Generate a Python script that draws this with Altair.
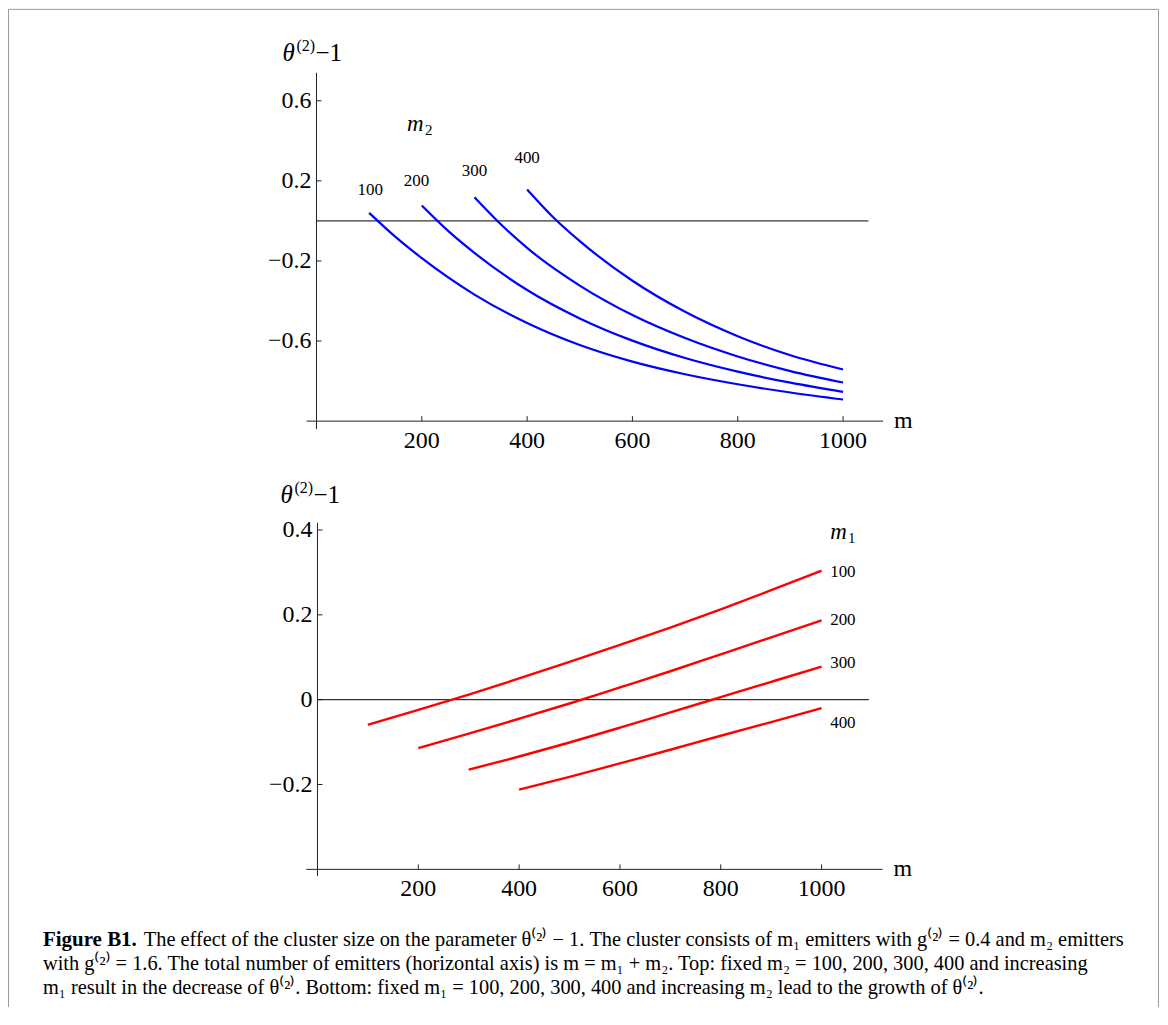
import altair as alt
import pandas as pd

SERIF = "Liberation Serif"

# ---------------- data ----------------
# Top panel: fixed m2, increasing m1 (x = m = m1 + m2)
top_series = [100, 200, 300, 400]
top_m_100 = [100, 150, 200, 300, 400, 500, 600, 700, 800, 900, 1000]
top_v_100 = [0.040, -0.080, -0.186, -0.368, -0.510, -0.620, -0.703, -0.766, -0.816, -0.857, -0.892]
top_m_200 = [200, 250, 300, 400, 500, 600, 700, 800, 900, 1000]
top_v_200 = [0.077, -0.050, -0.160, -0.345, -0.487, -0.598, -0.685, -0.753, -0.808, -0.854]
top_m_300 = [300, 350, 400, 500, 600, 700, 800, 900, 1000]
top_v_300 = [0.118, -0.017, -0.135, -0.323, -0.470, -0.585, -0.677, -0.750, -0.807]
top_m_400 = [400, 450, 500, 600, 700, 800, 900, 1000]
top_v_400 = [0.157, 0.017, -0.101, -0.299, -0.454, -0.576, -0.671, -0.742]

# Bottom panel: fixed m1, increasing m2
bot_series = [100, 200, 300, 400]
bot_m_100 = [100, 200, 300, 400, 500, 600, 700, 800, 900, 1000]
bot_v_100 = [-0.059, -0.024, 0.012, 0.050, 0.089, 0.129, 0.170, 0.213, 0.258, 0.304]
bot_m_200 = [200, 300, 400, 500, 600, 700, 800, 900, 1000]
bot_v_200 = [-0.114, -0.080, -0.045, -0.009, 0.029, 0.067, 0.107, 0.147, 0.187]
bot_m_300 = [300, 400, 500, 600, 700, 800, 900, 1000]
bot_v_300 = [-0.165, -0.134, -0.101, -0.066, -0.030, 0.006, 0.042, 0.078]
bot_m_400 = [400, 500, 600, 700, 800, 900, 1000]
bot_v_400 = [-0.212, -0.182, -0.150, -0.118, -0.085, -0.053, -0.020]

x_ticks = [200, 400, 600, 800, 1000]
top_y_ticks = [0.6, 0.2, -0.2, -0.6]
top_y_labels = ["0.6", "0.2", "\u22120.2", "\u22120.6"]
bot_y_ticks = [0.4, 0.2, 0.0, -0.2]
bot_y_labels = ["0.4", "0.2", "0", "\u22120.2"]

# curve labels (position in data units)
top_lab_text = ["100", "200", "300", "400"]
top_lab_m = [102, 190, 300, 400]
top_lab_v = [0.156, 0.198, 0.247, 0.314]
bot_lab_text = ["100", "200", "300", "400"]
bot_lab_m = [1017, 1017, 1017, 1017]
bot_lab_v = [0.301, 0.188, 0.086, -0.055]

caption_bold = "Figure B1."
caption_lines = [
    "The effect of the cluster size on the parameter \u03b8\u207d\u00b2\u207e \u2212 1. The cluster consists of m\u2081 emitters with g\u207d\u00b2\u207e = 0.4 and m\u2082 emitters",
    "with g\u207d\u00b2\u207e = 1.6. The total number of emitters (horizontal axis) is m = m\u2081 + m\u2082. Top: fixed m\u2082 = 100, 200, 300, 400 and increasing",
    "m\u2081 result in the decrease of \u03b8\u207d\u00b2\u207e. Bottom: fixed m\u2081 = 100, 200, 300, 400 and increasing m\u2082 lead to the growth of \u03b8\u207d\u00b2\u207e.",
]


def series_df(names, ms, vs):
    rows = []
    for n, m, v in zip(names, ms, vs):
        for a, b in zip(m, v):
            rows.append({"s": n, "m": a, "v": b})
    return pd.DataFrame(rows)


def make_panel(df, color, sw, xdom, xrng, ydom, yrng, axis_y, yticks, ylabels,
               zero_end, lab_df, lab_align, sym_m, sym_v, sym_sub,
               t_dx, t_dy):
    xs = alt.Scale(domain=xdom, range=xrng, nice=False, zero=False)
    ys = alt.Scale(domain=ydom, range=yrng, nice=False, zero=False)

    def X(f):
        return alt.X(f, type="quantitative", scale=xs, axis=None)

    def Y(f):
        return alt.Y(f, type="quantitative", scale=ys, axis=None)

    axis_col = "#222222"
    layers = []
    # x axis line
    layers.append(alt.Chart(pd.DataFrame({"x0": [xdom[0]], "x1": [xdom[1]], "y0": [axis_y]}))
                  .mark_rule(color=axis_col, strokeWidth=1)
                  .encode(x=X("x0"), x2="x1", y=Y("y0")))
    # y axis line
    layers.append(alt.Chart(pd.DataFrame({"x0": [0], "y0": [ydom[0]], "y1": [ydom[1]]}))
                  .mark_rule(color=axis_col, strokeWidth=1)
                  .encode(x=X("x0"), y=Y("y0"), y2="y1"))
    # zero line
    layers.append(alt.Chart(pd.DataFrame({"x0": [0], "x1": [zero_end], "y0": [0.0]}))
                  .mark_rule(color="black", strokeWidth=1)
                  .encode(x=X("x0"), x2="x1", y=Y("y0")))
    # x ticks + labels
    xt = pd.DataFrame({"t": x_ticks, "b": [axis_y] * len(x_ticks), "lab": [str(t) for t in x_ticks]})
    layers.append(alt.Chart(xt).mark_rule(color=axis_col, strokeWidth=1, y2Offset=-5)
                  .encode(x=X("t"), y=Y("b"), y2="b"))
    layers.append(alt.Chart(xt).mark_text(font=SERIF, fontSize=24, color="black", dy=20, baseline="middle")
                  .encode(x=X("t"), y=Y("b"), text="lab:N"))
    # y ticks + labels
    yt = pd.DataFrame({"t": yticks, "b": [0] * len(yticks), "lab": ylabels})
    layers.append(alt.Chart(yt).mark_rule(color=axis_col, strokeWidth=1, x2Offset=5)
                  .encode(x=X("b"), x2="b", y=Y("t")))
    layers.append(alt.Chart(yt).mark_text(font=SERIF, fontSize=24, color="black", align="right", dx=-5,
                                          baseline="middle")
                  .encode(x=X("b"), y=Y("t"), text="lab:N"))
    # axis label "m"
    ml = pd.DataFrame({"x0": [xdom[1]], "y0": [axis_y]})
    layers.append(alt.Chart(ml).mark_text(font=SERIF, fontSize=24, color="black", align="left", dx=11,
                                          baseline="middle", text="m")
                  .encode(x=X("x0"), y=Y("y0")))
    # y title theta^(2)-1
    tl = pd.DataFrame({"x0": [0], "y0": [ydom[1]]})
    layers.append(alt.Chart(tl).mark_text(font=SERIF, fontSize=25, fontStyle="italic", color="black",
                                          align="left", dx=t_dx, dy=t_dy, baseline="alphabetic", text="\u03b8")
                  .encode(x=X("x0"), y=Y("y0")))
    layers.append(alt.Chart(tl).mark_text(font=SERIF, fontSize=16, color="black",
                                          align="left", dx=t_dx + 14, dy=t_dy - 10, baseline="alphabetic",
                                          text="(2)")
                  .encode(x=X("x0"), y=Y("y0")))
    layers.append(alt.Chart(tl).mark_text(font=SERIF, fontSize=25, color="black",
                                          align="left", dx=t_dx + 33, dy=t_dy, baseline="alphabetic",
                                          text="\u22121")
                  .encode(x=X("x0"), y=Y("y0")))
    # curves
    layers.append(alt.Chart(df).mark_line(color=color, strokeWidth=sw, interpolate="monotone")
                  .encode(x=X("m"), y=Y("v"), detail="s:N"))
    # curve labels
    layers.append(alt.Chart(lab_df).mark_text(font=SERIF, fontSize=17, color="black", align=lab_align,
                                              baseline="middle")
                  .encode(x=X("m"), y=Y("v"), text="t:N"))
    # series symbol m_1 / m_2
    sl = pd.DataFrame({"x0": [sym_m], "y0": [sym_v]})
    layers.append(alt.Chart(sl).mark_text(font=SERIF, fontSize=23, fontStyle="italic", color="black",
                                          align="left", baseline="alphabetic", text="m")
                  .encode(x=X("x0"), y=Y("y0")))
    layers.append(alt.Chart(sl).mark_text(font=SERIF, fontSize=15, color="black",
                                          align="left", baseline="alphabetic", dx=18, dy=4, text=sym_sub)
                  .encode(x=X("x0"), y=Y("y0")))
    return alt.layer(*layers)


top_df = series_df(top_series, [top_m_100, top_m_200, top_m_300, top_m_400],
                   [top_v_100, top_v_200, top_v_300, top_v_400])
bot_df = series_df(bot_series, [bot_m_100, bot_m_200, bot_m_300, bot_m_400],
                   [bot_v_100, bot_v_200, bot_v_300, bot_v_400])
top_lab = pd.DataFrame({"t": top_lab_text, "m": top_lab_m, "v": top_lab_v})
bot_lab = pd.DataFrame({"t": bot_lab_text, "m": bot_lab_m, "v": bot_lab_v})

top_panel = make_panel(top_df, "#0000ff", 2.2,
                       [-19, 1076], [299.0, 876.6], [-1.04, 0.74], [421.0, 64.0], -1.0,
                       top_y_ticks, top_y_labels, 1048, top_lab, "center",
                       172, 0.45, "2", -34, -12)
bot_panel = make_panel(bot_df, "#ff0000", 2.4,
                       [-22, 1121], [298.9, 876.1], [-0.416, 0.417], [868.8, 514.8], -0.4,
                       bot_y_ticks, bot_y_labels, 1094, bot_lab, "left",
                       1017, 0.378, "1", -37, -20)

one = pd.DataFrame({"a": [0]})
W, H = 1154, 1000
border_col = "#9a9a9a"
CAP = 20.4
decor = [
    alt.Chart(one).mark_rule(color=border_col, strokeWidth=1).encode(x=alt.value(0.5), y=alt.value(0.5), y2=alt.value(H)),
    alt.Chart(one).mark_rule(color=border_col, strokeWidth=1).encode(x=alt.value(W - 1.5), y=alt.value(0.5), y2=alt.value(H)),
    alt.Chart(one).mark_rule(color=border_col, strokeWidth=1).encode(x=alt.value(0.5), x2=alt.value(W - 1.5), y=alt.value(0.5)),
    alt.Chart(one).mark_text(font=SERIF, fontSize=21, fontWeight="bold", align="left", baseline="alphabetic",
                             text=caption_bold, color="black").encode(x=alt.value(35), y=alt.value(939)),
    alt.Chart(one).mark_text(font=SERIF, fontSize=CAP, align="left", baseline="alphabetic",
                             text=caption_lines[0], color="black").encode(x=alt.value(136), y=alt.value(939)),
    alt.Chart(one).mark_text(font=SERIF, fontSize=CAP, align="left", baseline="alphabetic",
                             text=caption_lines[1], color="black").encode(x=alt.value(35), y=alt.value(963)),
    alt.Chart(one).mark_text(font=SERIF, fontSize=CAP, align="left", baseline="alphabetic",
                             text=caption_lines[2], color="black").encode(x=alt.value(35), y=alt.value(987)),
]

chart = alt.layer(top_panel, bot_panel, *decor).resolve_scale(
    x="independent", y="independent"
).properties(
    width=W, height=H, padding=0,
    autosize=alt.AutoSizeParams(type="none"),
    background="white",
).configure_view(stroke=None)

chart.save("out.html", embed_options={"renderer": "svg", "actions": False})
